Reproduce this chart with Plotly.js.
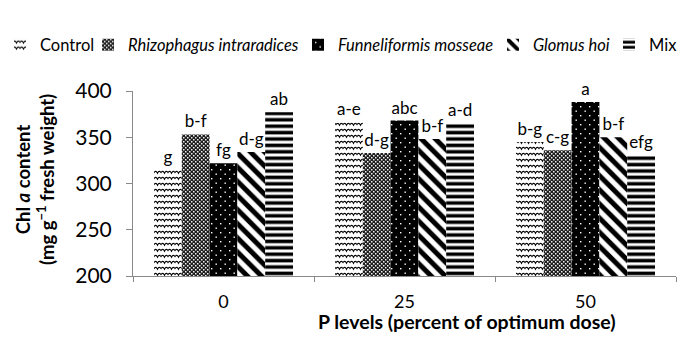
<!DOCTYPE html>
<html>
<head>
<meta charset="utf-8">
<script src="https://cdn.plot.ly/plotly-3.0.1.min.js"></script>
<style>
  html, body { margin: 0; padding: 0; background: #fff; }
  #chart { width: 700px; height: 354px; }
</style>
</head>
<body>
<div id="chart"></div>
<script>
// ---- data ----
const categories = ['0', '25', '50'];
const seriesNames = ['Control', '<i>Rhizophagus intraradices</i>', '<i>Funneliformis mosseae</i>', '<i>Glomus hoi</i>', 'Mix'];
const controlValues = [315, 366, 345];
const rhizophagusValues = [353, 333, 336];
const funneliformisValues = [322, 368, 388];
const glomusValues = [334, 348, 350];
const mixValues = [377, 365, 331];
const controlLetters = ['g', 'a-e', 'b-g'];
const rhizophagusLetters = ['b-f', 'd-g', 'c-g'];
const funneliformisLetters = ['fg', 'abc', 'a'];
const glomusLetters = ['d-g', 'b-f', 'b-f'];
const mixLetters = ['ab', 'a-d', 'efg'];
const yTickValues = [200, 250, 300, 350, 400];

const FONT = 'Lato, "Open Sans", sans-serif';
const AXIS_GRAY = '#898989';

const valueSets = [controlValues, rhizophagusValues, funneliformisValues, glomusValues, mixValues];
const letterSets = [controlLetters, rhizophagusLetters, funneliformisLetters, glomusLetters, mixLetters];
const legendIds = ['legend', 'legend2', 'legend3', 'legend4', 'legend5'];

// built-in look (fallback) per series; custom patterns applied after render for 0,1,2
const markers = [
  {color: '#ffffff', line: {width: 0}},
  {color: '#555555', line: {width: 0}},
  {color: '#000000', line: {width: 0}},
  {color: '#ffffff', line: {width: 0}, pattern: {shape: '\\', fgcolor: '#000000', bgcolor: '#ffffff', size: 10, solidity: 0.5}},
  {color: '#ffffff', line: {width: 0}, pattern: {shape: '-', fgcolor: '#000000', bgcolor: '#ffffff', size: 6.4, solidity: 0.55}}
];

const traces = valueSets.map((vals, i) => ({
  type: 'bar',
  name: seriesNames[i],
  x: categories,
  y: vals,
  text: letterSets[i],
  textposition: 'outside',
  constraintext: 'none',
  cliponaxis: false,
  textfont: {family: FONT, size: 17, color: '#000'},
  marker: markers[i],
  legend: legendIds[i],
  hoverinfo: 'none'
}));

// legend text start positions (px)
const legendTextX = [42, 130, 340, 535, 651];
const legendLayouts = {};
legendIds.forEach((id, i) => {
  legendLayouts[id] = {
    xref: 'container', yref: 'container',
    x: (legendTextX[i] - 42) / 700, xanchor: 'left',
    y: 1 - 45 / 354, yanchor: 'middle',
    orientation: 'h',
    bgcolor: 'rgba(0,0,0,0)',
    borderwidth: 0,
    font: {family: FONT, size: 16.5, color: '#000'}
  };
});

const layout = Object.assign({
  width: 700, height: 354,
  margin: {l: 133, r: 24, t: 91, b: 78, pad: 0},
  paper_bgcolor: '#ffffff',
  plot_bgcolor: '#ffffff',
  font: {family: FONT, color: '#000'},
  barmode: 'group',
  bargap: 0.232,
  bargroupgap: 0,
  showlegend: true,
  xaxis: {
    type: 'category',
    tickson: 'boundaries',
    ticks: 'outside', ticklen: 5, tickcolor: AXIS_GRAY, tickwidth: 1,
    showline: true, linecolor: AXIS_GRAY, linewidth: 1,
    showgrid: false, zeroline: false,
    tickfont: {family: FONT, size: 18, color: '#000'},
    ticklabelstandoff: 9
  },
  yaxis: {
    range: [200, 400],
    tickvals: yTickValues,
    ticktext: yTickValues.map(String),
    ticks: 'outside', ticklen: 6, tickcolor: AXIS_GRAY, tickwidth: 1,
    showline: true, linecolor: AXIS_GRAY, linewidth: 1,
    showgrid: false, zeroline: false,
    tickfont: {family: FONT, size: 21, color: '#000'},
    ticklabelstandoff: 10
  },
  annotations: [
    {
      xref: 'paper', yref: 'paper',
      x: (35 - 133) / 543, y: (276 - 180) / 185,
      xanchor: 'center', yanchor: 'middle',
      textangle: -90, showarrow: false,
      text: '<b>Chl <i>a</i> content<br>(mg g<sup>−1</sup> fresh weight)</b>',
      font: {family: FONT, size: 18.5, color: '#000'}
    },
    {
      xref: 'paper', yref: 'paper',
      x: (467 - 133) / 543, y: (276 - 321) / 185,
      xanchor: 'center', yanchor: 'middle',
      showarrow: false,
      text: '<b>P levels (percent of optimum dose)</b>',
      font: {family: FONT, size: 19.5, color: '#000'}
    }
  ]
}, legendLayouts);

function addCustomPatterns(svg) {
  const NS = 'http://www.w3.org/2000/svg';
  let defs = svg.querySelector('defs');
  if (!defs) { defs = document.createElementNS(NS, 'defs'); svg.insertBefore(defs, svg.firstChild); }
  function mk(tag, attrs, parent) {
    const el = document.createElementNS(NS, tag);
    Object.keys(attrs).forEach(k => el.setAttribute(k, attrs[k]));
    if (parent) parent.appendChild(el);
    return el;
  }
  // wave (Control)
  const wave = mk('pattern', {id: 'customWave', patternUnits: 'userSpaceOnUse', width: 7, height: 6}, defs);
  mk('rect', {x: 0, y: 0, width: 7, height: 6, fill: '#fff'}, wave);
  mk('path', {d: 'M-0.5,4.2 Q1.75,0.6 3.5,4.2 Q5.25,0.6 7.5,4.2', stroke: '#000', 'stroke-width': 1.1, fill: 'none'}, wave);
  // fine dot mesh (Rhizophagus)
  const chk = mk('pattern', {id: 'customChecker', patternUnits: 'userSpaceOnUse', width: 4, height: 4}, defs);
  mk('rect', {x: 0, y: 0, width: 4, height: 4, fill: '#1e1e1e'}, chk);
  mk('rect', {x: 0, y: 0, width: 1.5, height: 1.5, fill: '#f2f2f2'}, chk);
  mk('rect', {x: 2, y: 2, width: 1.5, height: 1.5, fill: '#f2f2f2'}, chk);
  // dots on black (Funneliformis)
  const dots = mk('pattern', {id: 'customDots', patternUnits: 'userSpaceOnUse', width: 9, height: 9}, defs);
  mk('rect', {x: 0, y: 0, width: 9, height: 9, fill: '#000'}, dots);
  mk('rect', {x: 1.5, y: 1.5, width: 1.4, height: 1.4, fill: '#fff'}, dots);
  mk('rect', {x: 6, y: 6, width: 1.4, height: 1.4, fill: '#fff'}, dots);
  return {0: 'url(#customWave)', 1: 'url(#customChecker)', 2: 'url(#customDots)'};
}

const gd = document.getElementById('chart');
Plotly.newPlot(gd, traces, layout, {staticPlot: true, displayModeBar: false}).then(() => {
  const svg = gd.querySelector('svg.main-svg');
  const fills = addCustomPatterns(svg);
  // bars
  const barTraces = gd.querySelectorAll('.barlayer .trace');
  barTraces.forEach((g, idx) => {
    const d = g.__data__;
    const ti = (d && d[0] && d[0].trace) ? d[0].trace.index : idx;
    if (fills[ti]) {
      g.querySelectorAll('.point path').forEach(p => { p.style.fill = fills[ti]; });
    }
  });
  // legend symbols
  gd.querySelectorAll('g.traces').forEach(g => {
    const d = g.__data__;
    if (!d || !d[0] || !d[0].trace) return;
    const ti = d[0].trace.index;
    if (fills[ti]) {
      g.querySelectorAll('.legendpoints path').forEach(p => { p.style.fill = fills[ti]; });
    }
  });
});
</script>
</body>
</html>
